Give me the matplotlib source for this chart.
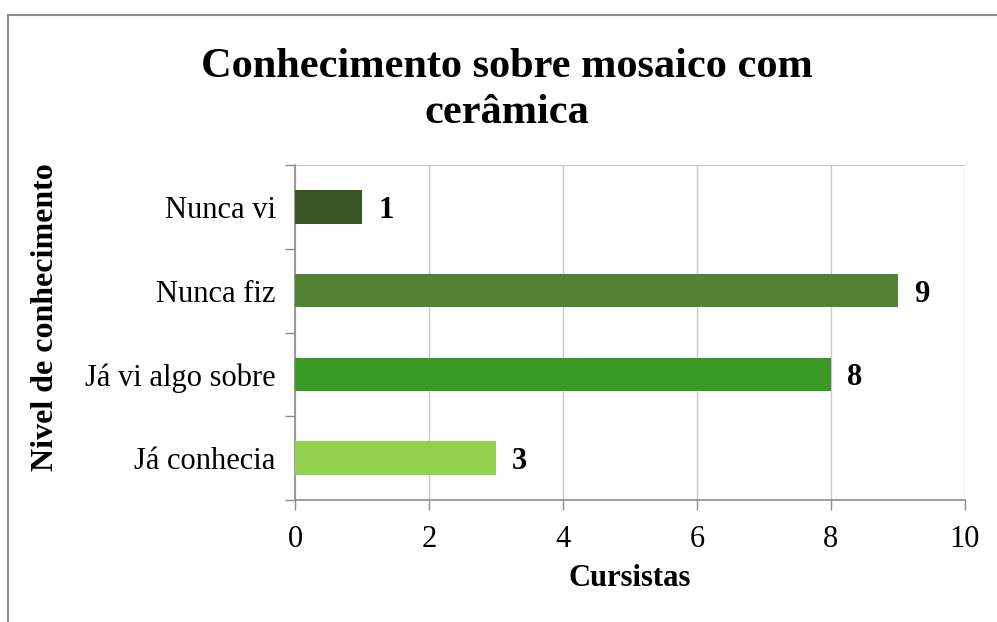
import matplotlib.pyplot as plt
from matplotlib.patches import Rectangle

categories = ["Já conhecia", "Já vi algo sobre", "Nunca fiz", "Nunca vi"]
values = [3, 8, 9, 1]
colors = ["#92D050", "#389A22", "#548235", "#375623"]

plt.rcParams['font.family'] = ['Liberation Serif', 'DejaVu Serif']

fig = plt.figure(figsize=(9.97, 6.22), dpi=100)
W, H = 997, 622
ax = fig.add_axes([295 / W, 1 - 500 / H, (965 - 295) / W, (500 - 165) / H])

# outer frame (left and top visible)
fig.patches.append(Rectangle((8 / W, -0.1), 1.2, 1 - 15 / H + 0.1, transform=fig.transFigure,
                             fill=False, edgecolor="#8c8c8c", linewidth=1.5))

y = range(len(categories))
ax.barh(y, values, height=0.4, color=colors, zorder=3)
for yi, v in zip(y, values):
    ax.text(v + 0.24, yi, str(v), va="center_baseline", ha="left", fontsize=22, fontweight="bold")

ax.set_xlim(0, 10)
ax.set_ylim(-0.5, 3.5)
ax.set_xticks([0, 2, 4, 6, 8, 10])
ax.set_yticks(list(y))
ax.set_yticklabels(categories)
ax.set_yticks([-0.5, 0.5, 1.5, 2.5, 3.5], minor=True)
ax.tick_params(axis="y", which="major", length=0, pad=14, labelsize=22)
ax.tick_params(axis="y", which="minor", length=7, color="#8c8c8c", width=1)
ax.tick_params(axis="x", length=7, color="#8c8c8c", width=1, labelsize=22, pad=11)
ax.grid(axis="x", color="#c8c8c8", linewidth=1, zorder=0)
ax.axhline(3.5, color="#c8c8c8", linewidth=1.5, zorder=1)

for s in ["top", "right"]:
    ax.spines[s].set_visible(False)
for s in ["left", "bottom"]:
    ax.spines[s].set_color("#8c8c8c")
    ax.spines[s].set_linewidth(1.2)

ax.set_xlabel("Cursistas", fontsize=22, fontweight="bold", va="center")
ax.xaxis.set_label_coords(0.5, (500 - 578) / 335)
ax.set_ylabel("Nivel de conhecimento", fontsize=23, fontweight="bold", va="center")
ax.yaxis.set_label_coords((45 - 295) / 670, 0.545)

fig.text(0.508, 1 - 90 / H, "Conhecimento sobre mosaico com\ncerâmica", ha="center", va="center",
         fontsize=30.5, fontweight="bold", linespacing=1.3)

fig.savefig("out.png", dpi=100)
